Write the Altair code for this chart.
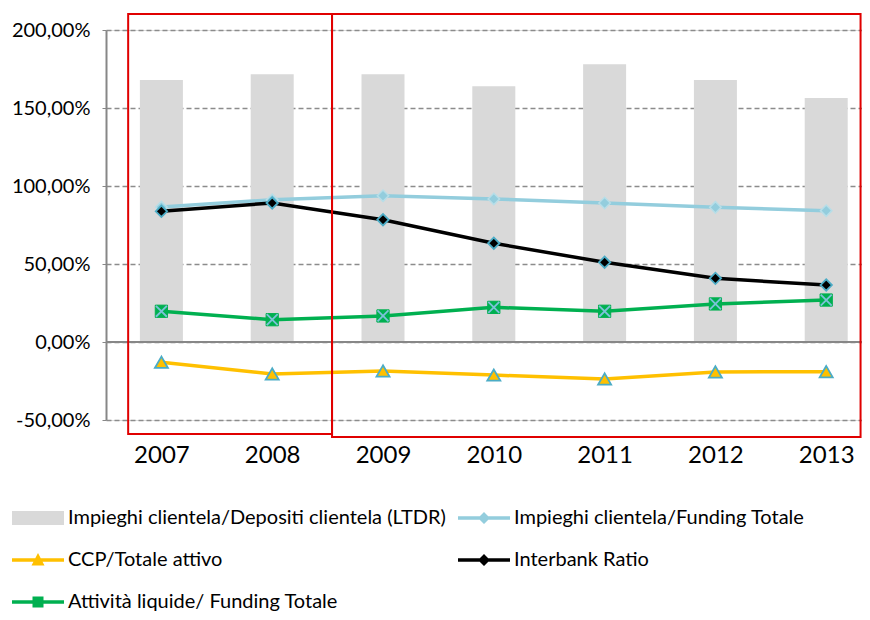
import altair as alt
import pandas as pd

years = [2007, 2008, 2009, 2010, 2011, 2012, 2013]
ltdr = [167.9, 171.6, 171.6, 163.9, 178.0, 167.9, 156.4]
imp_fund = [86.5, 91.2, 93.8, 91.7, 89.1, 86.3, 84.2]
ccp = [-13.0, -20.5, -18.6, -21.2, -23.7, -19.2, -19.0]
interbank = [83.8, 89.1, 78.4, 63.3, 51.1, 40.8, 36.5]
liquid = [19.7, 14.3, 16.7, 22.2, 19.7, 24.4, 26.9]

names = [
    "Impieghi clientela/Depositi clientela (LTDR)",
    "Impieghi clientela/Funding Totale",
    "CCP/Totale attivo",
    "Interbank Ratio",
    "Attività liquide/ Funding Totale",
]
colors = ["#D9D9D9", "#93CDDD", "#FFC000", "#000000", "#00B050"]
y_ticks = [-50, 0, 50, 100, 150, 200]

# annotation boxes (data units: year, percent)
box_x1 = [2006.70, 2008.54]
box_x2 = [2008.54, 2013.31]
box_y1 = [-59.0, -60.9]
box_y2 = [210.3, 210.3]

series_vals = [ltdr, imp_fund, ccp, interbank, liquid]
rows = []
for n, vals in zip(names, series_vals):
    for yr, v in zip(years, vals):
        rows.append({"year": yr, "value": v, "series": n})
df = pd.DataFrame(rows)
boxes = pd.DataFrame({"x1": box_x1, "x2": box_x2, "y1": box_y1, "y2": box_y2})

FONT = "Lato"
xscale = alt.Scale(domain=[2006.5, 2013.323], nice=False, zero=False, padding=0)
yscale = alt.Scale(domain=[-50, 200], nice=False, zero=False, padding=0)

x_enc = alt.X("year:Q", scale=xscale,
              axis=alt.Axis(values=years, format="d", title=None, domain=False,
                            ticks=False, grid=False, labelFontSize=24,
                            labelPadding=23, labelFont=FONT, labelColor="#000"))
y_enc = alt.Y("value:Q", scale=yscale,
              axis=alt.Axis(values=y_ticks, title=None,
                            labelExpr="datum.value + ',00%'",
                            labelFontSize=20, labelFont=FONT, labelColor="#000",
                            labelPadding=12, tickSize=4, tickColor="#878787",
                            domainColor="#878787", domainWidth=2,
                            grid=True, gridDash=[5, 3], gridColor="#8c8c8c",
                            gridWidth=1.5))

base = alt.Chart(df)

bars = base.transform_filter(alt.datum.series == names[0]).mark_bar(
    size=43, color=colors[0]).encode(x=x_enc, y=y_enc)

zero_rule = alt.Chart(pd.DataFrame({"v": [0]})).mark_rule(
    color="#878787", strokeWidth=2).encode(y=alt.Y("v:Q", scale=yscale))

layers = [bars, zero_rule]

for i in [1, 2, 3, 4]:
    layers.append(
        base.transform_filter(alt.datum.series == names[i]).mark_line(
            color=colors[i], strokeWidth=3.5).encode(
            x=alt.X("year:Q", scale=xscale), y=alt.Y("value:Q", scale=yscale)))

marker_specs = [
    (1, dict(shape="diamond", size=130, fill="#93CDDD", stroke="#B7DEE8", strokeWidth=1.5)),
    (2, dict(shape="triangle-up", size=170, fill="#FFC000", stroke="#4BACC6", strokeWidth=1.8)),
    (3, dict(shape="diamond", size=130, fill="#000000", stroke="#4BACC6", strokeWidth=1.8)),
    (4, dict(shape="square", size=150, fill="#00B050", stroke="#00B050", strokeWidth=1)),
    (4, dict(shape="M-1,-1L1,1M-1,1L1,-1", size=120, fill="none", stroke="#7CC2D8", strokeWidth=1.8)),
]
for i, spec in marker_specs:
    layers.append(
        base.transform_filter(alt.datum.series == names[i]).mark_point(
            filled=False, opacity=1, **spec).encode(
            x=alt.X("year:Q", scale=xscale), y=alt.Y("value:Q", scale=yscale)))

# legend glyphs (unit = 10px, extend beyond [-1,1] on purpose)
rect_path = "M-2.6,-0.7H2.6V0.7H-2.6Z"
line_path = "M-2.6,-0.18H2.6V0.18H-2.6Z"
shapes = [
    rect_path,
    line_path + "M0,-0.6L0.6,0L0,0.6L-0.6,0Z",
    line_path + "M0,-0.7L0.65,0.55L-0.65,0.55Z",
    line_path + "M0,-0.6L0.6,0L0,0.6L-0.6,0Z",
    line_path + "M-0.55,-0.55H0.55V0.55H-0.55Z",
]

legend = alt.Legend(title=None, orient="none", legendX=-78, legendY=478,
                    direction="horizontal",
                    columns=2, symbolSize=400, symbolOpacity=1,
                    symbolStrokeWidth=0, labelFont=FONT, labelFontSize=20,
                    labelColor="#000", labelOffset=20, rowPadding=22,
                    columnPadding=12, padding=0, labelLimit=500)
legend_layer = base.mark_point(filled=True, opacity=0).encode(
    x=alt.X("year:Q", scale=xscale), y=alt.Y("value:Q", scale=yscale),
    color=alt.Color("series:N", scale=alt.Scale(domain=names, range=colors),
                    legend=legend, sort=names),
    shape=alt.Shape("series:N", scale=alt.Scale(domain=names, range=shapes),
                    legend=legend, sort=names),
)
layers.append(legend_layer)

box_layer = alt.Chart(boxes).mark_rect(fill=None, stroke="#E00000",
                                       strokeWidth=2, clip=False).encode(
    x=alt.X("x1:Q", scale=xscale), x2="x2:Q",
    y=alt.Y("y1:Q", scale=yscale), y2="y2:Q")
layers.append(box_layer)

chart = alt.layer(*layers).properties(
    width=756, height=390,
    padding={"left": 98, "top": 22, "right": 0, "bottom": 192},
    autosize=alt.AutoSizeParams(type="none"),
).configure_view(stroke=None).configure(background="white")

chart.save("out.html", embed_options={"renderer": "svg", "actions": False})
